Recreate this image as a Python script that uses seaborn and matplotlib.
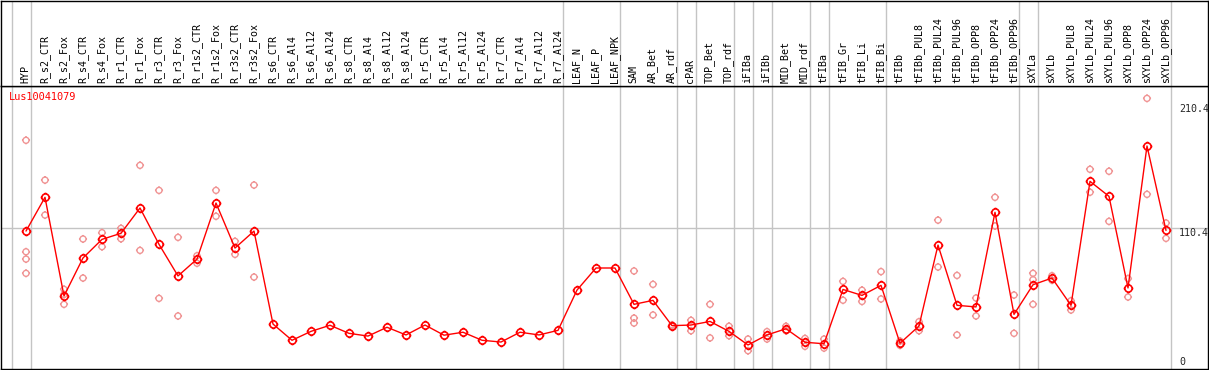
import numpy as np
import pandas as pd
import seaborn as sns
import matplotlib
matplotlib.use("Agg")
import matplotlib.pyplot as plt
from matplotlib.path import Path
from matplotlib.transforms import blended_transform_factory

# tissue / sample names, left to right
samples = [
    "HYP", "R_s2_CTR", "R_s2_Fox", "R_s4_CTR", "R_s4_Fox", "R_r1_CTR", "R_r1_Fox",
    "R_r3_CTR", "R_r3_Fox", "R_r1s2_CTR", "R_r1s2_Fox", "R_r3s2_CTR", "R_r3s2_Fox",
    "R_s6_CTR", "R_s6_Al4", "R_s6_Al12", "R_s6_Al24", "R_s8_CTR", "R_s8_Al4",
    "R_s8_Al12", "R_s8_Al24", "R_r5_CTR", "R_r5_Al4", "R_r5_Al12", "R_r5_Al24",
    "R_r7_CTR", "R_r7_Al4", "R_r7_Al12", "R_r7_Al24", "LEAF_N", "LEAF_P", "LEAF_NPK",
    "SAM", "AR_Bet", "AR_rdf", "cPAR", "TOP_Bet", "TOP_rdf", "iFIBa", "iFIBb",
    "MID_Bet", "MID_rdf", "tFIBa", "tFIB_Gr", "tFIB_Li", "tFIB_Bi", "tFIBb",
    "tFIBb_PUL8", "tFIBb_PUL24", "tFIBb_PUL96", "tFIBb_OPP8", "tFIBb_OPP24",
    "tFIBb_OPP96", "sXYLa", "sXYLb", "sXYLb_PUL8", "sXYLb_PUL24", "sXYLb_PUL96",
    "sXYLb_OPP8", "sXYLb_OPP24", "sXYLb_OPP96",
]

# mean expression per sample
means = [
    108.2, 135.4, 55.8, 86.5, 101.5, 106.4, 126.8, 97.5, 72.0, 85.6, 130.8, 94.5, 108.2,
    33.2, 20.1, 27.3, 32.2, 25.7, 23.5, 30.6, 24.4, 32.4, 24.2, 26.6, 20.1,
    18.7, 26.6, 24.4, 28.1, 60.6, 78.4, 78.4,
    49.1, 52.3, 31.9, 32.4, 35.3, 27.3, 16.3, 24.4, 29.4, 18.5, 17.3,
    61.1, 56.3, 64.4, 17.7, 31.6, 96.9, 48.3, 47.0, 123.3, 41.0,
    64.9, 70.3, 48.3, 148.3, 136.2, 62.3, 176.8, 108.7,
]

# individual replicates
rep_samples = (
    ["HYP"] * 4 + ["R_s2_CTR"] * 2 + ["R_s2_Fox"] * 3 + ["R_s4_CTR"] * 2 + ["R_s4_Fox"] * 2
    + ["R_r1_CTR"] * 2 + ["R_r1_Fox"] * 2 + ["R_r3_CTR"] * 2 + ["R_r3_Fox"] * 2
    + ["R_r1s2_CTR"] * 2 + ["R_r1s2_Fox"] * 2 + ["R_r3s2_CTR"] * 2 + ["R_r3s2_Fox"] * 2
    + ["SAM"] * 3 + ["AR_Bet"] * 2 + ["AR_rdf"] * 2 + ["cPAR"] * 2 + ["TOP_Bet"] * 2
    + ["TOP_rdf"] * 2 + ["iFIBa"] * 2 + ["iFIBb"] * 2 + ["MID_Bet"] * 2 + ["MID_rdf"] * 2
    + ["tFIBa"] * 2 + ["tFIB_Gr"] * 2 + ["tFIB_Li"] * 2 + ["tFIB_Bi"] * 2 + ["tFIBb"] * 2
    + ["tFIBb_PUL8"] * 2 + ["tFIBb_PUL24"] * 2 + ["tFIBb_PUL96"] * 2 + ["tFIBb_OPP8"] * 2
    + ["tFIBb_OPP24"] * 2 + ["tFIBb_OPP96"] * 2 + ["sXYLa"] * 3 + ["sXYLb"] * 2
    + ["sXYLb_PUL8"] * 2 + ["sXYLb_PUL24"] * 2 + ["sXYLb_PUL96"] * 2 + ["sXYLb_OPP8"] * 2
    + ["sXYLb_OPP24"] * 2 + ["sXYLb_OPP96"] * 2
)
rep_values = [
    181.4, 91.5, 85.6, 74.1, 149.3, 121.1, 61.2, 57.0, 49.1, 101.8, 70.3, 106.9, 95.6,
    110.4, 102.0, 161.2, 92.6, 141.0, 53.9, 103.1, 39.7,
    88.3, 82.2, 141.0, 120.1, 99.9, 89.4, 145.3, 71.1,
    76.0, 38.0, 34.0, 65.2, 40.5, 32.5, 31.3, 36.2, 27.8, 49.1, 22.0,
    31.4, 23.8, 21.1, 11.7, 27.1, 21.1, 31.4, 27.8, 21.6, 15.2,
    21.1, 13.8, 67.6, 52.4, 60.5, 51.4, 75.5, 53.4, 19.5, 16.0,
    35.1, 27.8, 117.0, 79.2, 72.4, 24.4, 54.2, 39.7,
    135.4, 112.3, 56.6, 25.7, 74.1, 69.0, 49.1, 72.2, 68.5,
    52.0, 44.5, 158.0, 139.5, 156.4, 116.0, 69.9, 55.0,
    215.2, 137.8, 114.7, 102.3,
]

# group separators come after these samples
sep_after = ["HYP", "R_r7_Al24", "LEAF_NPK", "AR_rdf", "cPAR", "TOP_rdf", "iFIBa",
             "iFIBb", "MID_rdf", "tFIBa", "tFIB_Bi", "tFIBb_OPP96", "sXYLa", "sXYLb_OPP96"]
y_ticks = [210.4, 110.4]
gene = "Lus10041079"

df_mean = pd.DataFrame({"sample": samples, "value": means})
df_mean["pos"] = np.arange(len(samples))
pos_of = dict(zip(samples, df_mean["pos"]))
df_rep = pd.DataFrame({"sample": rep_samples, "value": rep_values})
df_rep["pos"] = df_rep["sample"].map(pos_of)

sns.set_style("white")
plt.rcParams["font.family"] = ["DejaVu Sans Mono"]
plt.rcParams["font.size"] = 7.2

RED = "#ff0000"
PINK = "#f09494"
GRID = "#c4c4c4"

# open circle with four little ticks
circ = Path.unit_circle()
tv, tc = [], []
for dx, dy in [(0, 1), (0, -1), (1, 0), (-1, 0)]:
    tv += [(dx, dy), (dx * 1.35, dy * 1.35)]
    tc += [Path.MOVETO, Path.LINETO]
tick_marker = Path.make_compound_path(circ, Path(tv, tc))

W, H = 1209, 370
fig = plt.figure(figsize=(W / 100, H / 100), dpi=100)
ax = fig.add_axes([0.5 / W, (H - 368.5) / H, 1207 / W, 283 / H])
head = fig.add_axes([0.5 / W, (H - 85.5) / H, 1207 / W, 85 / H], sharex=ax)

xlim = ((0.5 - 26) / 19, (1207.5 - 26) / 19)
ax.set_xlim(*xlim)
ax.set_ylim(-2.66, 225.6)
head.set_ylim(0, 85)

for a in (ax, head):
    for s in a.spines.values():
        s.set_color("black")
        s.set_linewidth(1.0)
    a.tick_params(left=False, bottom=False, labelleft=False, labelbottom=False)
    a.set_xlabel("")
    a.set_ylabel("")
    seps = [-1] + [pos_of[s] for s in sep_after]
    for p in seps:
        a.axvline(p + 0.25, color=GRID, lw=1, zorder=0)

ax.axhline(110.4, color=GRID, lw=1, zorder=0)

sns.scatterplot(data=df_rep, x="pos", y="value", ax=ax, marker=tick_marker,
                s=34, color=PINK, linewidth=1, zorder=2, legend=False)
ax.collections[-1].set_facecolor("none")
ax.collections[-1].set_edgecolor(PINK)

sns.lineplot(data=df_mean, x="pos", y="value", ax=ax, color=RED, linewidth=1,
             marker=tick_marker, markersize=7, markerfacecolor="none",
             markeredgecolor=RED, markeredgewidth=1.2, zorder=3)
ax.set_xlabel("")
ax.set_ylabel("")
ax.set_xlim(*xlim)

# rotated sample names in the header
for name, p in pos_of.items():
    head.text(p - 0.03, 2.5, name, rotation=90, ha="center", va="bottom",
              fontsize=7.2, color="black")

ax.text((9.3 - 0.5) / 1207, (368.5 - 97) / 283, gene, transform=ax.transAxes,
        color=RED, fontsize=7.4, ha="left", va="center")

tr = blended_transform_factory(ax.transAxes, ax.transData)
for t in y_ticks:
    ax.text(0.9765, t, f"{t:g}", transform=tr, ha="left", va="top", fontsize=7.2)
ax.text(0.9765, 2.8, "0", transform=tr, ha="left", va="center", fontsize=7.2)

fig.savefig("out.png", dpi=100)
